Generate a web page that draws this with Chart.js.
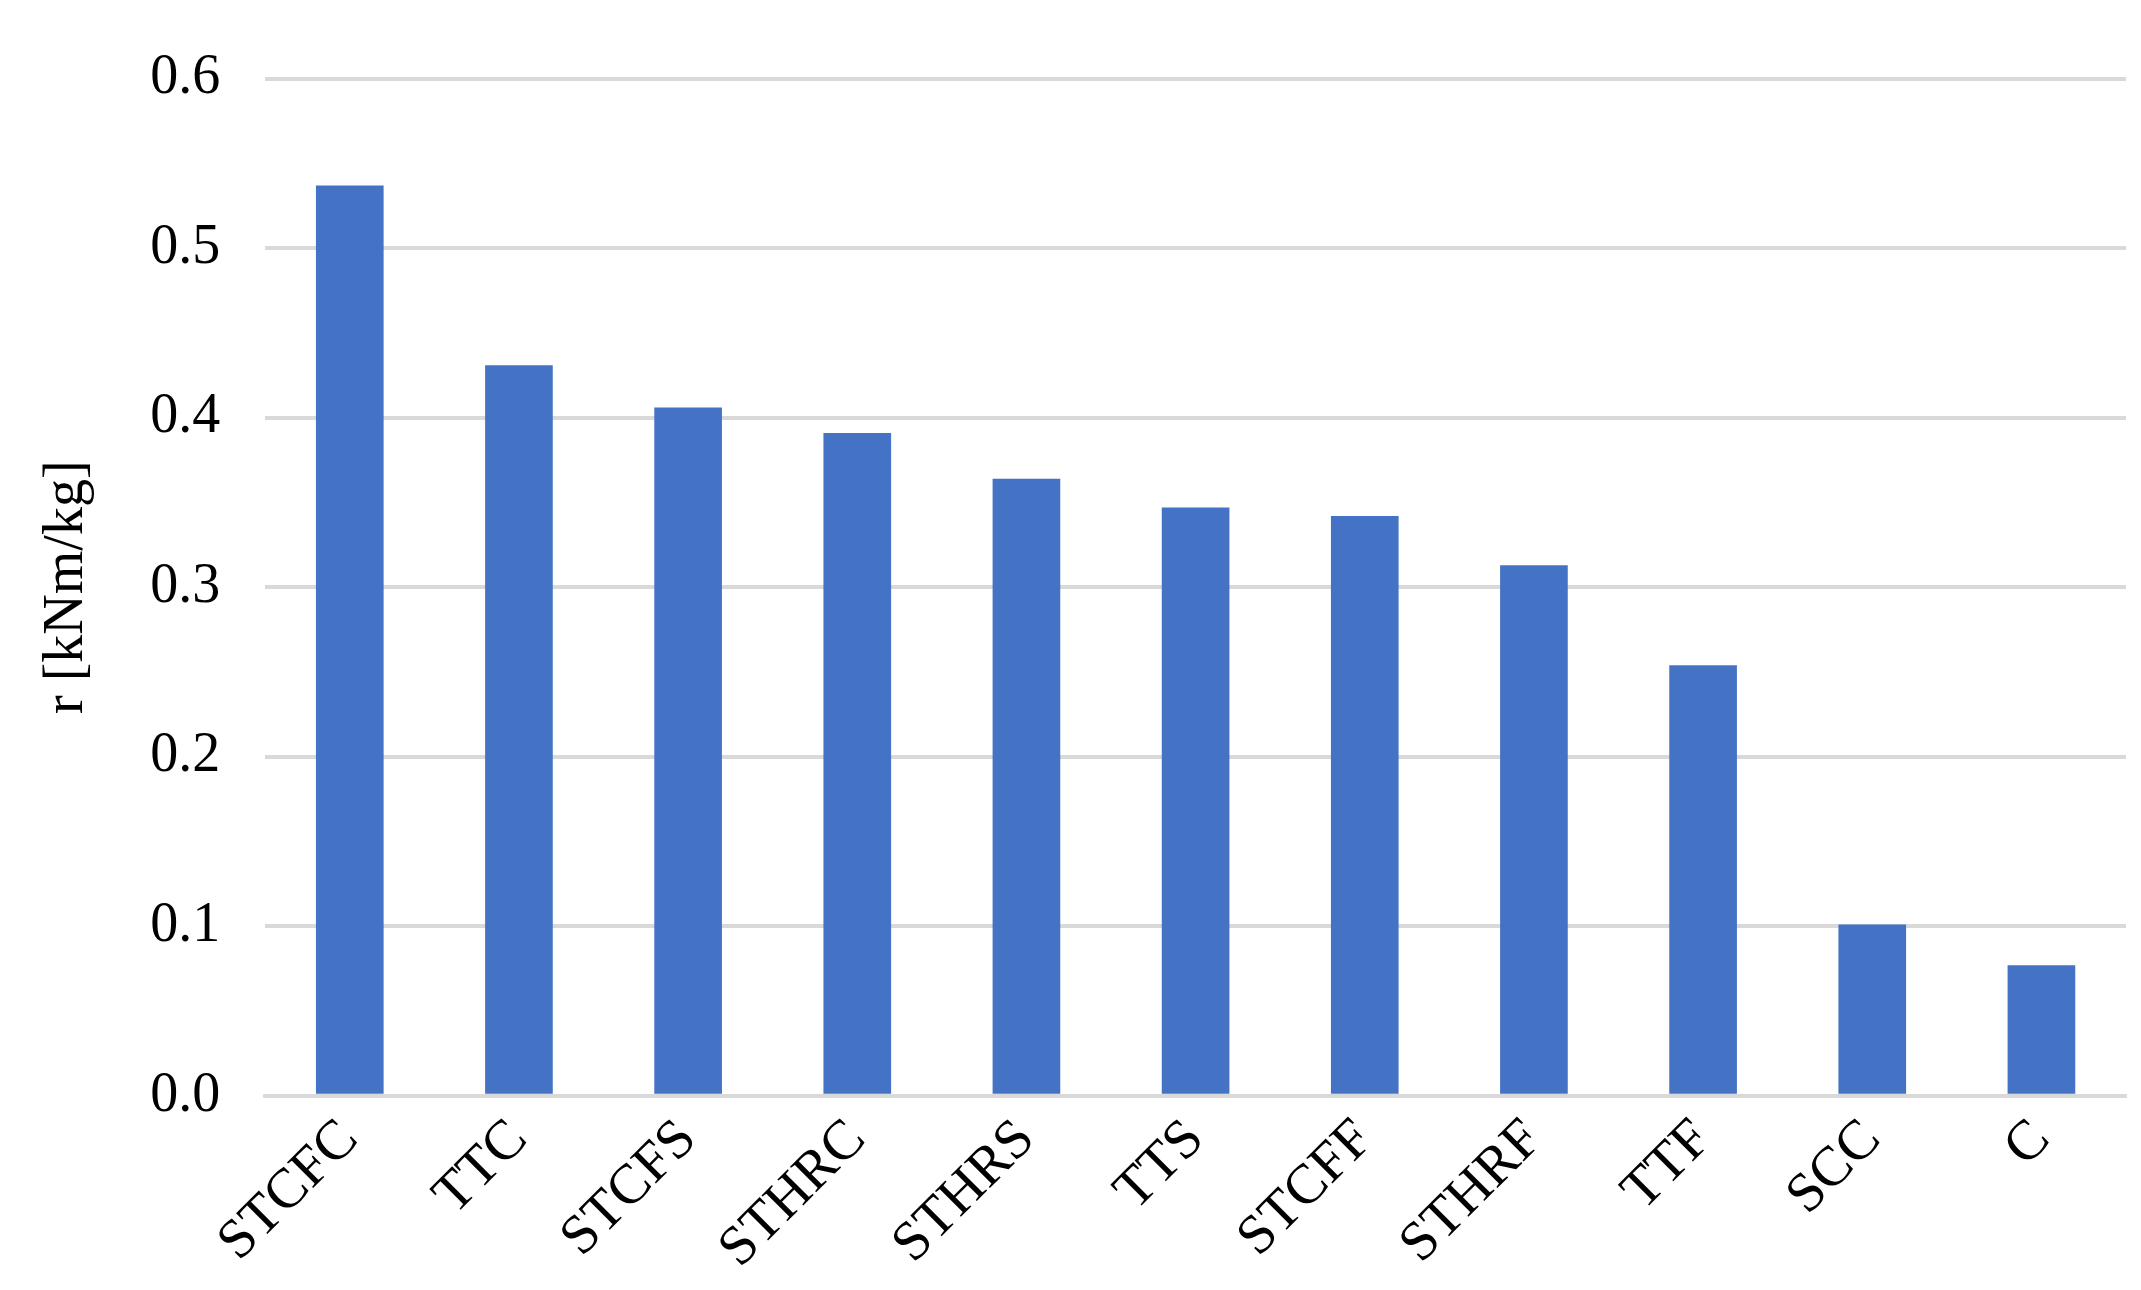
<!DOCTYPE html>
<html>
<head>
<meta charset="utf-8">
<script src="https://cdn.jsdelivr.net/npm/chart.js@4"></script>
<style>
  html, body { margin: 0; padding: 0; background: #fff; }
  #wrap { width: 2141px; height: 1290px; }
</style>
</head>
<body>
<div id="wrap"><canvas id="js--chart"></canvas></div>
<script>
const categories = ["STCFC", "TTC", "STCFS", "STHRC", "STHRS", "TTS", "STCFF", "STHRF", "TTF", "SCC", "C"];
const values = [0.537, 0.431, 0.406, 0.391, 0.364, 0.347, 0.342, 0.313, 0.254, 0.101, 0.077];

const font = { family: "'Liberation Serif', 'Times New Roman', serif", size: 56 };

new Chart(document.getElementById("js--chart"), {
  type: "bar",
  data: {
    labels: categories,
    datasets: [{ data: values, backgroundColor: "#4472C4", categoryPercentage: 1, barPercentage: 0.4 }],
  },
  options: {
    responsive: true,
    maintainAspectRatio: false,
    animation: false,
    layout: { padding: { top: 25, right: 15, left: 30, bottom: 5 } },
    plugins: { legend: { display: false }, tooltip: { enabled: false } },
    scales: {
      x: {
        grid: { display: false },
        border: { color: "#d9d9d9", width: 4 },
        ticks: { color: "#000", font: font, maxRotation: 45, minRotation: 45 },
      },
      y: {
        min: 0,
        max: 0.6,
        ticks: { stepSize: 0.1, color: "#000", font: font, padding: 45, callback: (v) => v.toFixed(1) },
        grid: { color: "#d9d9d9", lineWidth: 4, drawTicks: false },
        border: { display: false },
        title: { display: true, text: "r [kNm/kg]", color: "#000", font: font },
      },
    },
  },
});
</script>
</body>
</html>
